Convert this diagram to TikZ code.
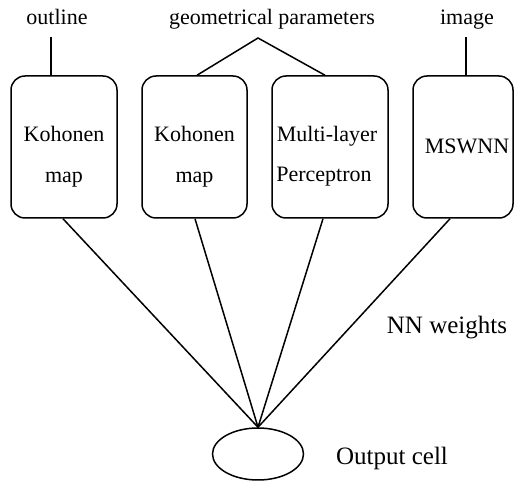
\documentclass[tikz,border=0pt]{standalone}
\usepackage{fontspec}
\setmainfont{Liberation Serif}
\usetikzlibrary{calc,shapes.geometric}
\begin{document}
\begin{tikzpicture}[x=1pt,y=-1pt,
  net/.style={draw, line width=1.5pt, rounded corners=14pt, minimum height=142pt, inner sep=0pt},
  lbl/.style={anchor=base, inner sep=0pt, font=\fontsize{22}{26}\selectfont},
  biglbl/.style={anchor=base, inner sep=0pt, font=\fontsize{25}{30}\selectfont},
  wire/.style={draw, line width=1.5pt}]
\useasboundingbox (0,0) rectangle (515,481);

% the four networks
\node[net, minimum width=106pt] (b1) at (64,147) {};
\node[net, minimum width=105pt] (b2) at (194.5,147) {};
\node[net, minimum width=116pt] (b3) at (330,147) {};
\node[net, minimum width=100pt] (b4) at (463,147) {};

% network names
\node[lbl] (t1a) at (64,142) {Kohonen};
\node[lbl] (t1b) at (64,183) {map};
\node[lbl] (t2a) at (194.5,142) {Kohonen};
\node[lbl] (t2b) at (194.5,183) {map};
\node[lbl] (t3a) at (327,142) {Multi-layer};
\node[lbl] (t3b) at (324,182) {Perceptron};
\node[lbl] (t4) at (467,154) {MSWNN};

% inputs
\node[lbl] (in1) at (57,25) {outline};
\node[lbl] (in2) at (272,25) {geometrical parameters};
\node[lbl] (in3) at (467,25) {image};
\coordinate (top1) at (51,37);
\coordinate (split) at (258,38);
\coordinate (top3) at (466,37);
\draw[wire] (top1) -- ([xshift=-13pt]b1.north);
\draw[wire] ([xshift=2.5pt]b2.north) -- (split) -- ([xshift=-5pt]b3.north);
\draw[wire] (top3) -- ([xshift=3pt]b4.north);

% output cell and weighted connections
\node[draw, line width=1.5pt, ellipse, minimum width=91pt, minimum height=52pt, inner sep=0pt] (cell) at (258,454) {};
\draw[wire] ([xshift=-1pt]b1.south) -- (cell.north);
\draw[wire] ([xshift=0.5pt]b2.south) -- (cell.north);
\draw[wire] ([xshift=-7pt]b3.south) -- (cell.north);
\draw[wire] ([xshift=-13pt]b4.south) -- (cell.north);

\node[biglbl] (nnw) at (447,334) {NN weights};
\node[biglbl] (outc) at (392,465) {Output cell};
\end{tikzpicture}
\end{document}
